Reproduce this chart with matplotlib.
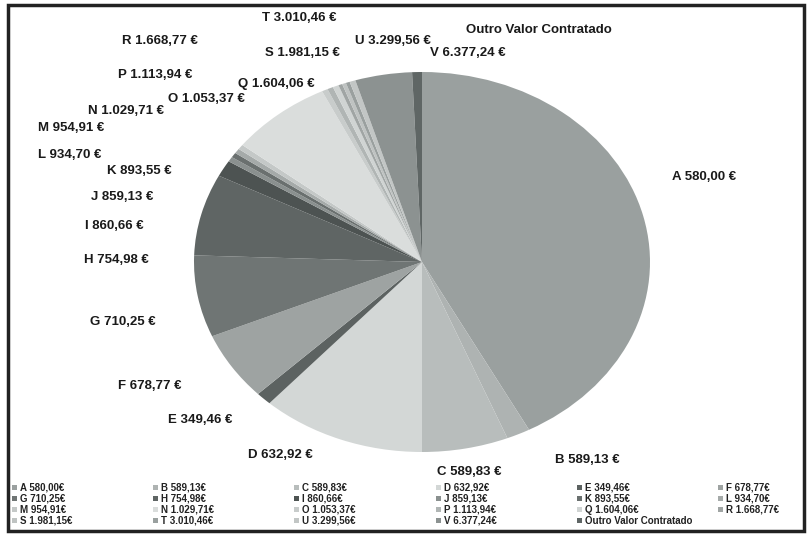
import matplotlib
matplotlib.use("Agg")
import matplotlib.pyplot as plt
from matplotlib.patches import Rectangle

plt.rcParams['font.family'] = ['Liberation Sans', 'DejaVu Sans']

# valores das etiquetas
nomes = ["A 580,00 €", "B 589,13 €", "C 589,83 €", "D 632,92 €", "E 349,46 €",
         "F 678,77 €", "G 710,25 €", "H 754,98 €", "I 860,66 €", "J 859,13 €",
         "K 893,55 €", "L 934,70 €", "M 954,91 €", "N 1.029,71 €", "O 1.053,37 €",
         "P 1.113,94 €", "Q 1.604,06 €", "R 1.668,77 €", "S 1.981,15 €",
         "T 3.010,46 €", "U 3.299,56 €", "V 6.377,24 €", "Outro Valor Contratado"]

# tamanho das fatias (graus)
fatias = [152, 6, 22, 42, 4, 21, 25, 25, 5, 1.5, 1.5, 1.5, 1.5, 26,
          1.5, 1.5, 1.5, 1, 1, 1, 1.5, 14.5, 2.5]

cores = ['#9aa09f', '#aeb3b2', '#b8bdbc', '#d3d7d6', '#5c6261', '#9ea3a2',
         '#6f7574', '#5f6564', '#4d5352', '#8a908f', '#6a706f', '#a5aaa9',
         '#c4c8c7', '#dadddc', '#c8cccb', '#b0b5b4', '#d0d4d3', '#a0a5a4',
         '#bfc3c2', '#9aa09f', '#c2c6c5', '#8c9291', '#5f6665']

# posicao das etiquetas em pixels (esquerda, centro vertical)
pos_etiquetas = [(672, 177), (555, 460), (437, 472), (248, 455), (168, 420),
                 (118, 386), (90, 322), (84, 260), (85, 226), (91, 197),
                 (107, 171), (38, 155), (38, 128), (88, 111), (168, 99),
                 (118, 75), (238, 84), (122, 41), (265, 53), (262, 18),
                 (355, 41), (430, 53), (466, 30)]

W, H = 810, 540
fig = plt.figure(figsize=(W / 100, H / 100), dpi=100)

cx, cy, rx, ry = 422, 262, 228, 190
ax = fig.add_axes([(cx - rx) / W, (H - cy - ry) / H, 2 * rx / W, 2 * ry / H])
wedges, _ = ax.pie(fatias, colors=cores, startangle=90, counterclock=False,
                   radius=1, wedgeprops=dict(linewidth=0))
ax.set_aspect('auto')
ax.set_xlim(-1, 1)
ax.set_ylim(-1, 1)
ax.axis('off')

for nome, (px, py) in zip(nomes, pos_etiquetas):
    fig.text(px / W, 1 - py / H, nome, ha='left', va='center',
             fontsize=9.5, fontweight='bold', color='#1a1a1a')

# legenda em linhas de 6 (A-F, G-L, M-R, S-Outro)
ncol = 6
for i, (nome, cor) in enumerate(zip(nomes, cores)):
    r, c = divmod(i, ncol)
    lx = 12 + c * 141.2
    ly = 487 + r * 11.3
    fig.patches.append(Rectangle((lx / W, 1 - (ly + 2.5) / H), 5 / W, 5 / H,
                                 transform=fig.transFigure, facecolor=cor,
                                 edgecolor='none'))
    fig.text((lx + 8) / W, 1 - ly / H, nome.replace(" €", "€"), ha='left',
             va='center', fontsize=7, fontweight='bold', color='#222222')

fig.patches.append(Rectangle((8 / W, 1 - 531 / H), 796 / W, 526 / H,
                             transform=fig.transFigure, fill=False,
                             edgecolor='#222222', linewidth=2.5))

fig.savefig('out.png', dpi=100)
